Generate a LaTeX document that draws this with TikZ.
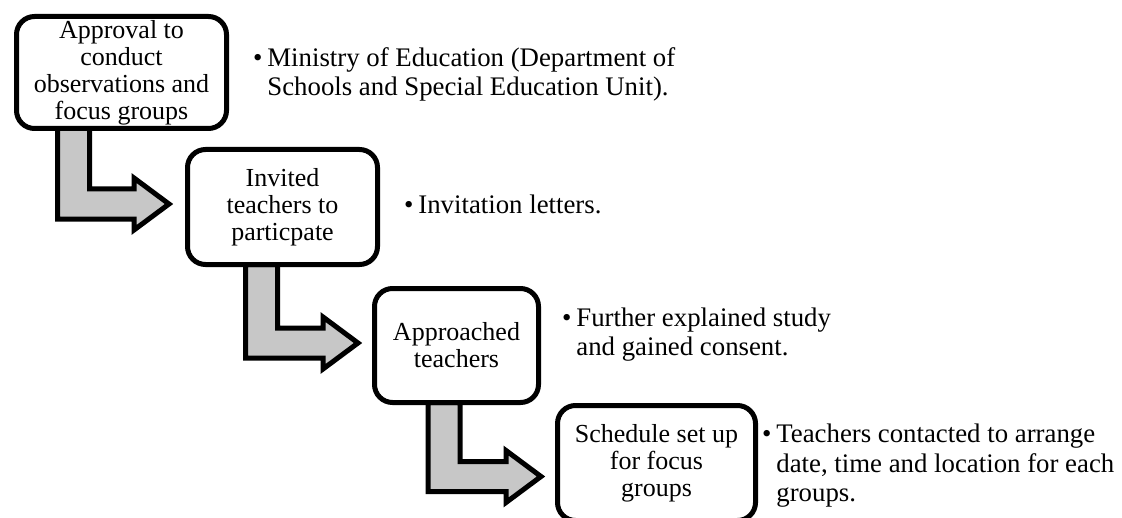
\documentclass[tikz,border=0pt]{standalone}
\usepackage{fontspec}
\setmainfont{Liberation Serif}
\usetikzlibrary{positioning, backgrounds, calc}

\definecolor{arrowgray}{gray}{0.78}

\tikzset{
  stagebox/.style={draw, line width=2.5pt, rounded corners=9pt, fill=white,
    align=center, inner sep=0pt, outer sep=0pt,
    font=\fontsize{13}{13.5}\selectfont},
  note/.style={anchor=base west, align=left, inner sep=0pt,
    font=\fontsize{13.4}{14.75}\selectfont},
  flowarrow/.style={draw, line width=2.5pt, fill=arrowgray, line join=miter},
}

% bent block arrow: #1 from box, #2 to box, #3 shaft offset, #4 tip shift
\newcommand{\bentarrow}[4]{%
  \coordinate (sa) at ([shift={(#3,0)}]#1.south west);
  \coordinate (tp) at ([shift={(#4)}]#2.west);
  \draw[flowarrow] ($(sa)+(-16,0)$) |- ($(tp)+(-35,15)$) -- ++(0,11) -- (tp)
    -- ($(tp)+(-35,-26)$) -- ++(0,11) -| ($(sa)+(16,0)$) -- cycle;
}
\newcommand{\bul}{\llap{\textbullet\hspace{2.5pt}}}

\begin{document}
\begin{tikzpicture}[x=0.5pt, y=-0.5pt]
  \useasboundingbox (0,0) rectangle (1122,518);

  % Steps (staircase)
  \node[stagebox, minimum width=105pt, minimum height=56pt] (st1) at (121.5,72.5)
    {Approval to\\conduct\\observations and\\focus groups};
  \node[stagebox, minimum width=95pt, minimum height=57.5pt] (st2) at (282.5,207)
    {Invited\\teachers to\\particpate};
  \node[stagebox, minimum width=82pt, minimum height=57pt] (st3) at (456.5,345.5)
    {Approached\\teachers};
  \node[stagebox, minimum width=99pt, minimum height=57.5pt] (st4) at (656.5,463)
    {Schedule set up\\for focus\\groups};

  % Notes beside each step (placed by last baseline)
  \node[note] (nt1) at (267,96)
    {\bul Ministry of Education (Department of\\Schools and Special Education Unit).};
  \node[note] (nt2) at (418,213.3) {\bul Invitation letters.};
  \node[note] (nt3) at (576,355.7) {\bul Further explained study\\and gained consent.};
  \node[note] (nt4) at (776,501.7)
    {\bul Teachers contacted to arrange\\date, time and location for each\\groups.};

  % Arrows between steps
  \begin{scope}[on background layer]
    \bentarrow{st1}{st2}{57}{-18.5,-3}
    \bentarrow{st2}{st3}{74}{-16.5,-2.5}
    \bentarrow{st3}{st4}{69.5}{-16.5,13.5}
  \end{scope}
\end{tikzpicture}
\end{document}
